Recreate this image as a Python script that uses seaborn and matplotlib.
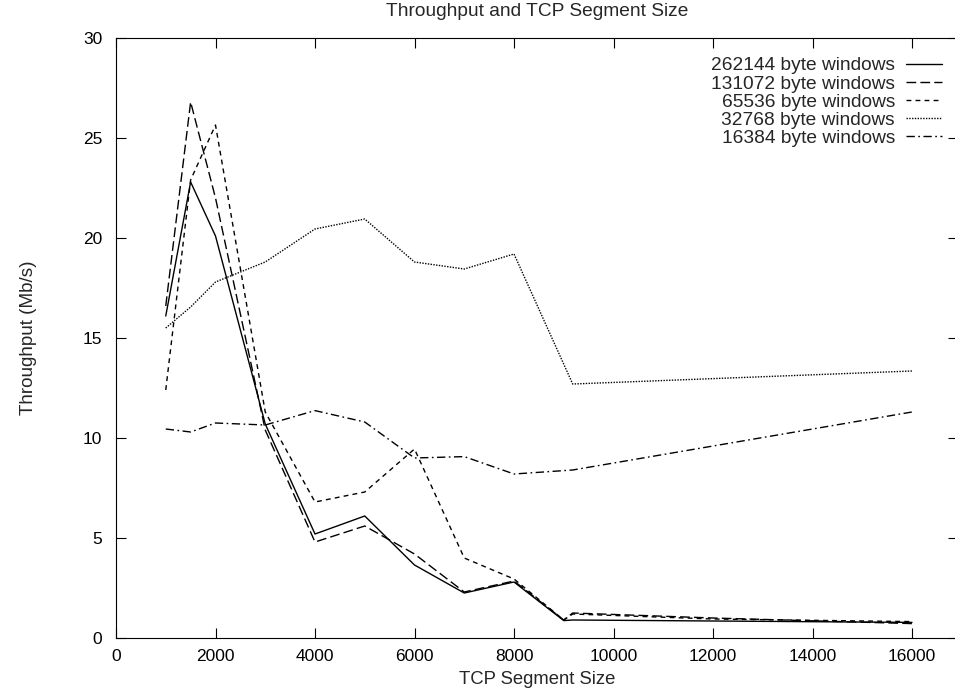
import pandas as pd
import matplotlib
matplotlib.use("Agg")
import matplotlib.pyplot as plt
import seaborn as sns

# Segment sizes (bytes) and measured throughput (Mb/s) per window size
x_262144 = [1000, 1500, 2000, 3000, 4000, 5000, 6000, 7000, 8000, 9000, 9180, 12000, 16000]
y_262144 = [16.1, 22.8, 20.1, 10.7, 5.2, 6.1, 3.65, 2.25, 2.8, 0.87, 0.9, 0.85, 0.78]

x_131072 = [1000, 1500, 2000, 3000, 4000, 5000, 6000, 7000, 8000, 9000, 9180, 12000, 16000]
y_131072 = [16.6, 26.8, 22.0, 10.4, 4.8, 5.6, 4.2, 2.3, 2.85, 0.9, 1.25, 1.0, 0.72]

x_65536 = [1000, 1500, 2000, 3000, 4000, 5000, 6000, 7000, 8000, 9000, 9180, 12000, 16000]
y_65536 = [12.4, 22.9, 25.65, 11.3, 6.8, 7.3, 9.45, 4.0, 2.95, 0.9, 1.2, 0.95, 0.82]

x_32768 = [1000, 1500, 2000, 3000, 4000, 5000, 6000, 7000, 8000, 9180, 16000]
y_32768 = [15.5, 16.55, 17.8, 18.8, 20.45, 20.95, 18.8, 18.45, 19.2, 12.7, 13.35]

x_16384 = [1000, 1500, 2000, 3000, 4000, 5000, 6000, 7000, 8000, 9180, 16000]
y_16384 = [10.45, 10.3, 10.75, 10.65, 11.37, 10.8, 9.0, 9.07, 8.2, 8.4, 11.3]

labels = ["262144 byte windows", "131072 byte windows", "65536 byte windows",
          "32768 byte windows", "16384 byte windows"]
xs = [x_262144, x_131072, x_65536, x_32768, x_16384]
ys = [y_262144, y_131072, y_65536, y_32768, y_16384]
styles = ["-", (0, (7, 3)), (0, (3.5, 3)), (0, (1, 1)), (0, (6, 2.5, 1.2, 2.5))]

sns.set_style("ticks")
plt.rcParams["font.family"] = ["Liberation Sans", "DejaVu Sans"]

fig = plt.figure(figsize=(9.55, 6.93), dpi=100)
# right spine sits just past the image edge, as in the cropped original
ax = fig.add_axes([116 / 955, 1 - 638 / 693, (958 - 116) / 955, 600 / 693])

for x, y, lab, ls in zip(xs, ys, labels, styles):
    df = pd.DataFrame({"size": x, "tput": y})
    sns.lineplot(data=df, x="size", y="tput", ax=ax, color="black",
                 linewidth=1.0, linestyle=ls, label=lab, errorbar=None)

ax.set_xlim(0, (958 - 116) / 49.75 * 1000)
ax.set_ylim(0, 30)
ax.set_xticks(range(0, 16001, 2000))
ax.set_yticks(range(0, 31, 5))
ax.tick_params(direction="in", top=True, right=True, length=7, width=0.8,
               labelsize=12.5, colors="black")
ax.tick_params(axis="y", pad=10)
ax.tick_params(axis="x", pad=8)
for s in ax.spines.values():
    s.set_linewidth(0.8)
    s.set_color("black")

ax.set_title("Throughput and TCP Segment Size", fontsize=13.8, pad=16)
ax.set_xlabel("TCP Segment Size", fontsize=13.3, labelpad=5)
ax.set_ylabel("Throughput (Mb/s)", fontsize=13.6, labelpad=33)

ax.legend(loc="upper right", bbox_to_anchor=((942 - 116) / 842, (638 - 57) / 600),
          frameon=False, markerfirst=False, fontsize=13.8, borderpad=0,
          borderaxespad=0, labelspacing=0.04, handlelength=1.9, handletextpad=0.55)

plt.savefig("out.png", dpi=100)
plt.close()
